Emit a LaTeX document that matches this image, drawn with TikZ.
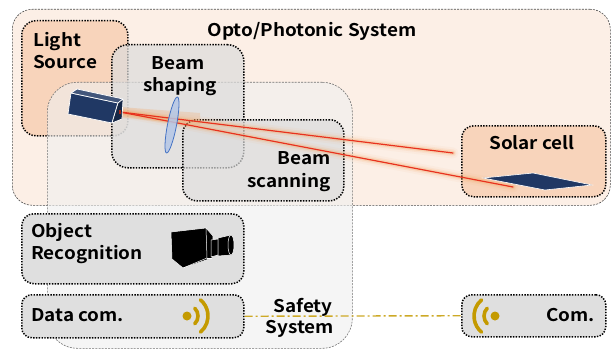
\documentclass[tikz,border=0pt]{standalone}
\usepackage{fontspec}
\setmainfont{Noto Sans CJK JP}[BoldFont={Noto Sans CJK JP Bold}, FakeStretch=1.08]
\usetikzlibrary{shapes.geometric}
\definecolor{optofill}{HTML}{FCEFE6}
\definecolor{srcfill}{HTML}{F8D4BB}
\definecolor{boxgray}{HTML}{DCDCDC}
\definecolor{safefill}{HTML}{EFEFEF}
\definecolor{navy}{HTML}{203864}
\definecolor{lensfill}{HTML}{B4C7E7}
\definecolor{lensline}{HTML}{4472C4}
\definecolor{gold}{HTML}{C49A00}
\definecolor{beamred}{HTML}{E8321E}
\definecolor{glow}{HTML}{F4A460}
\tikzset{
  region/.style={rectangle, anchor=north west, inner sep=0pt, draw=black!70,
    line width=0.6pt, dash pattern=on 2pt off 1.2pt},
  dotbox/.style={rectangle, anchor=north west, inner sep=0pt, draw=black,
    line width=1.5pt, dash pattern=on 1.4pt off 1.4pt},
  lbl/.style={inner sep=0pt, font=\bfseries\fontsize{17.5}{20}\selectfont},
  beamglow/.style={draw=glow, line cap=round},
  beamcore/.style={draw=beamred, line width=1.2pt, line cap=round},
  wave/.style={draw=gold, line width=3.6pt, line cap=round},
  cam/.style={fill=black, draw=white, line width=0.5pt, line join=round},
}
\begin{document}
\begin{tikzpicture}[x=1pt, y=-1pt]
\useasboundingbox (0,0) rectangle (612,350);

% enclosing regions
\node[region, fill=optofill, rounded corners=20pt, minimum width=598pt, minimum height=196pt] (opto) at (12,9) {};
\node[dotbox, fill=srcfill, rounded corners=14pt, minimum width=106pt, minimum height=115pt] (src) at (21,20) {};
\node[region, draw=black!55, fill=safefill, fill opacity=0.6, rounded corners=30pt, minimum width=305pt, minimum height=266pt] (safety) at (47,82) {};

% functional blocks
\node[dotbox, fill=boxgray, fill opacity=0.7, rounded corners=16pt, minimum width=132pt, minimum height=123pt] (shaping) at (111,44) {};
\node[dotbox, fill=boxgray, fill opacity=0.7, rounded corners=14pt, minimum width=161pt, minimum height=81pt] (scanning) at (182,119) {};
\node[dotbox, fill=srcfill, rounded corners=12pt, minimum width=144pt, minimum height=71pt] (solar) at (461,125) {};
\node[dotbox, fill=boxgray!90, rounded corners=12pt, minimum width=222pt, minimum height=70pt] (objrec) at (21,213) {};
\node[dotbox, fill=boxgray!90, rounded corners=10pt, minimum width=222pt, minimum height=43pt] (datacom) at (21,294) {};
\node[dotbox, fill=boxgray!90, rounded corners=10pt, minimum width=144pt, minimum height=42pt] (com) at (461,294) {};

% labels
\node[lbl, anchor=base] (tOpto) at (312,37) {Opto/Photonic System};
\node[lbl, anchor=base west] (tLight) at (33,47) {Light};
\node[lbl, anchor=base west] (tSource) at (33,69) {Source};
\node[lbl, anchor=base] (tBeamA) at (178,70) {Beam};
\node[lbl, anchor=base] (tShaping) at (180,92) {shaping};
\node[lbl, anchor=base east] (tBeamB) at (331,164) {Beam};
\node[lbl, anchor=base east] (tScanning) at (331,187) {scanning};
\node[lbl, anchor=base] (tSolar) at (532,149) {Solar cell};
\node[lbl, anchor=base west] (tObject) at (31,237) {Object};
\node[lbl, anchor=base west] (tRecog) at (31,259) {Recognition};
\node[lbl, anchor=base west] (tData) at (31,321) {Data com.};
\node[lbl, anchor=base east] (tCom) at (595,321) {Com.};
\node[lbl, anchor=base] (tSafety) at (303,312) {Safety};
\node[lbl, anchor=base] (tSystem) at (300,333) {System};

% wireless link between the two communication blocks
\draw[draw=gold!85!white, line width=1.4pt, dash pattern=on 8pt off 3pt on 2pt off 3pt]
  (datacom.east) -- (com.west);

% laser beams
\coordinate (aperture) at (120,112);
\coordinate (hitA) at (453,153);
\coordinate (hitB) at (513,187);
\foreach \w/\o in {11/0.06, 7/0.12, 4/0.25} {
  \draw[beamglow, line width=\w pt, draw opacity=\o] (aperture) -- (hitA);
  \draw[beamglow, line width=\w pt, draw opacity=\o] (aperture) -- (hitB);
}
\fill[glow, opacity=0.25] (120,107) -- (200,113) -- (200,126) -- (120,117) -- cycle;
\draw[beamcore] (aperture) -- (hitA);
\draw[beamcore] (aperture) -- (hitB);

% solar panel
\fill[navy] (483,178) -- (533,173) -- (592,185) -- (545,190) -- cycle;
\draw[white, line width=0.6pt] (483,178) -- (533,173) -- (592,185) -- (545,190) -- cycle;

% lens
\node[ellipse, draw=lensline, line width=0.8pt, fill=lensfill, fill opacity=0.85, inner sep=0pt,
  minimum width=9pt, minimum height=57pt, rotate=-11] (lens) at (172,125) {};

% laser head
\fill[navy, draw=white, line width=0.7pt, line join=round] (71,93) -- (118,103) -- (112,123) -- (68,114) -- cycle;
\fill[navy!85!white, draw=white, line width=0.7pt, line join=round] (71,93) -- (77,89) -- (123,99) -- (118,103) -- cycle;
\fill[navy!70!black, draw=white, line width=0.7pt, line join=round] (118,103) -- (123,99) -- (122,119) -- (112,123) -- cycle;
\fill[beamred!70!black] (119,110) rectangle (121,114);

% camera
\path[cam] (171,232) -- (206,228) -- (213,236) -- (212,258) -- (183,268) -- (172,259) -- cycle;
\draw[white, line width=0.5pt] (206,228) -- (207,258) -- (183,268);
\draw[white, line width=0.5pt] (207,258) -- (212,258);
\path[cam] (211,240) -- (218,239) -- (218,255) -- (211,257) -- cycle;
\path[cam] (218,238) -- (231,235) -- (231,255) -- (218,256) -- cycle;
\path[cam] (231,245) ellipse[x radius=3pt, y radius=10pt];

% antenna symbols
\node[circle, fill=gold, minimum size=9pt, inner sep=0pt] (dotA) at (187,316) {};
\draw[wave] (dotA.center) ++(-45:11pt) arc[start angle=-45, end angle=45, radius=11pt];
\draw[wave] (dotA.center) ++(-50:21pt) arc[start angle=-50, end angle=50, radius=21pt];
\node[circle, fill=gold, minimum size=9pt, inner sep=0pt] (dotB) at (495,316) {};
\draw[wave] (dotB.center) ++(135:11pt) arc[start angle=135, end angle=225, radius=11pt];
\draw[wave] (dotB.center) ++(130:21pt) arc[start angle=130, end angle=230, radius=21pt];
\end{tikzpicture}
\end{document}
